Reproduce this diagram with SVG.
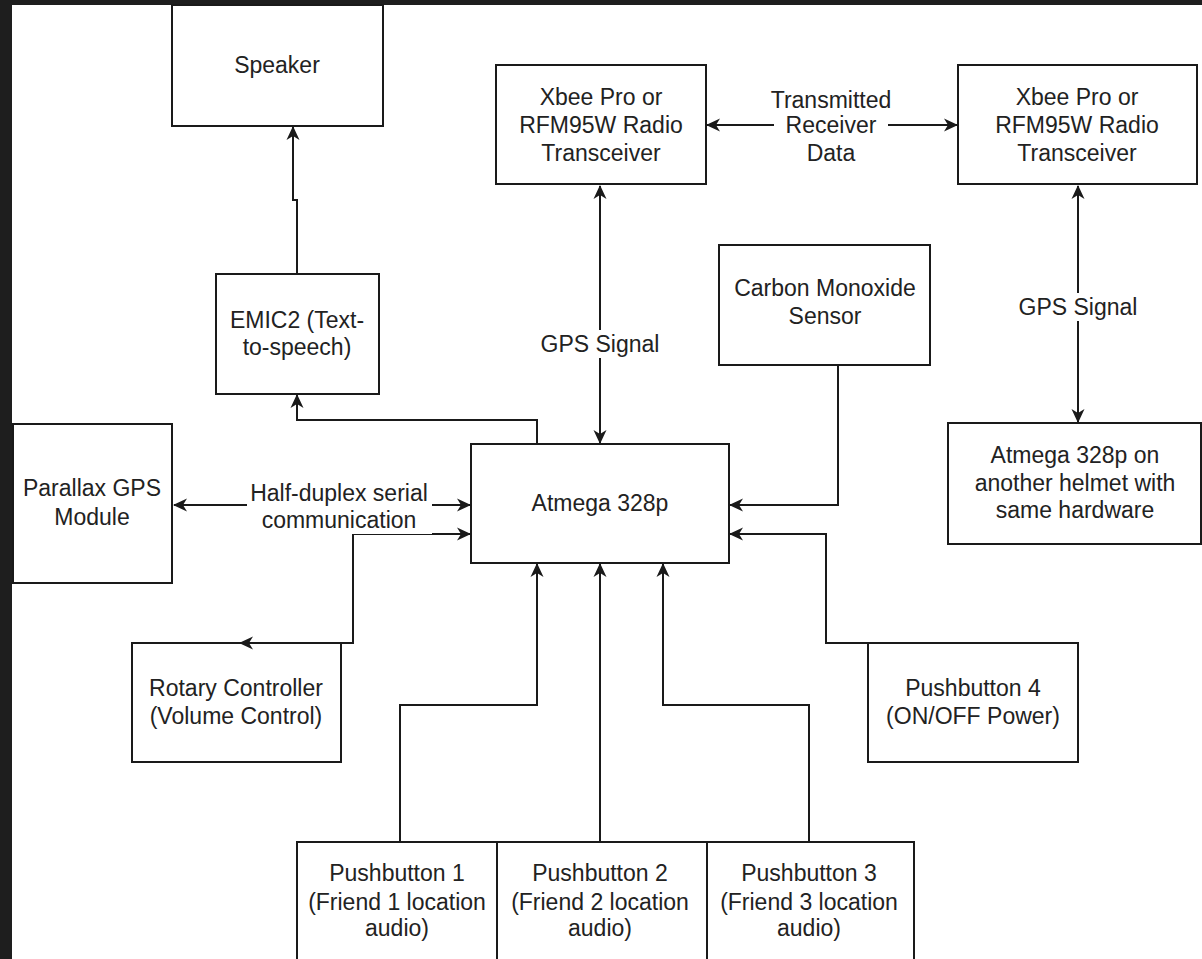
<svg xmlns="http://www.w3.org/2000/svg" width="1202" height="959" viewBox="0 0 1202 959">
<style>
.box{fill:#fff;stroke:#1a1a1a;stroke-width:2}
.t{font-family:"Liberation Sans",Arial,sans-serif;font-size:23px;fill:#222;text-anchor:middle}
.c{fill:none;stroke:#1a1a1a;stroke-width:2}
.lb{fill:#fff}
</style>
<defs>
<marker id="ar" viewBox="0 0 14 14" markerWidth="14" markerHeight="14" refX="13" refY="7" orient="auto-start-reverse" markerUnits="userSpaceOnUse">
<path d="M0,0.5 L14,7 L0,13.5 L4,7 Z" fill="#1a1a1a"/>
</marker>
</defs>
<rect x="0" y="0" width="1202" height="959" fill="#1e1e1e"/>
<rect x="12" y="5" width="1190" height="954" fill="#fff"/>

<g id="speaker"><rect class="box" x="172" y="5" width="211" height="121"/><text class="t" x="277" y="73">Speaker</text></g>
<g id="xbee1"><rect class="box" x="496" y="65" width="210" height="119"/>
<text class="t" x="601" y="105">Xbee Pro or</text><text class="t" x="601" y="133">RFM95W Radio</text><text class="t" x="601" y="161">Transceiver</text></g>
<g id="xbee2"><rect class="box" x="958" y="65" width="239" height="119"/>
<text class="t" x="1077" y="105">Xbee Pro or</text><text class="t" x="1077" y="133">RFM95W Radio</text><text class="t" x="1077" y="161">Transceiver</text></g>
<g id="emic2"><rect class="box" x="216" y="274" width="163" height="120"/>
<text class="t" x="297" y="328">EMIC2 (Text-</text><text class="t" x="297" y="355">to-speech)</text></g>
<g id="co"><rect class="box" x="719" y="245" width="211" height="120"/>
<text class="t" x="825" y="296">Carbon Monoxide</text><text class="t" x="825" y="324">Sensor</text></g>
<g id="parallax"><rect class="box" x="13" y="424" width="159" height="159"/>
<text class="t" x="92" y="496">Parallax GPS</text><text class="t" x="92" y="525">Module</text></g>
<g id="atmega"><rect class="box" x="471" y="444" width="258" height="119"/>
<text class="t" x="600" y="511">Atmega 328p</text></g>
<g id="helmet"><rect class="box" x="948" y="423" width="253" height="121"/>
<text class="t" x="1075" y="463">Atmega 328p on</text><text class="t" x="1075" y="491">another helmet with</text><text class="t" x="1075" y="518">same hardware</text></g>
<g id="rotary"><rect class="box" x="132" y="643" width="209" height="119"/>
<text class="t" x="236" y="696">Rotary Controller</text><text class="t" x="236" y="724">(Volume Control)</text></g>
<g id="pb4"><rect class="box" x="868" y="643" width="210" height="119"/>
<text class="t" x="973" y="696">Pushbutton 4</text><text class="t" x="973" y="724">(ON/OFF Power)</text></g>
<g id="pb1"><rect class="box" x="297" y="842" width="200" height="130"/>
<text class="t" x="397" y="881">Pushbutton 1</text><text class="t" x="397" y="910">(Friend 1 location</text><text class="t" x="397" y="936">audio)</text></g>
<g id="pb2"><rect class="box" x="497" y="842" width="210" height="130"/>
<text class="t" x="600" y="881">Pushbutton 2</text><text class="t" x="600" y="910">(Friend 2 location</text><text class="t" x="600" y="936">audio)</text></g>
<g id="pb3"><rect class="box" x="707" y="842" width="207" height="130"/>
<text class="t" x="809" y="881">Pushbutton 3</text><text class="t" x="809" y="910">(Friend 3 location</text><text class="t" x="809" y="936">audio)</text></g>

<g id="connectors">
<path class="c" d="M297,274 L297,200 L293,200 L293,127" marker-end="url(#ar)"/>
<path class="c" d="M537,444 L537,420 L297,420 L297,395" marker-end="url(#ar)"/>
<path class="c" d="M600,186 L600,443" marker-start="url(#ar)" marker-end="url(#ar)"/>
<path class="c" d="M707,125 L957,125" marker-start="url(#ar)" marker-end="url(#ar)"/>
<path class="c" d="M1078,186 L1078,422" marker-start="url(#ar)" marker-end="url(#ar)"/>
<path class="c" d="M838,365 L838,505 L730,505" marker-end="url(#ar)"/>
<path class="c" d="M174,505 L470,505" marker-start="url(#ar)" marker-end="url(#ar)"/>
<path class="c" d="M240,643 L353,643 L353,534 L470,534" marker-start="url(#ar)" marker-end="url(#ar)"/>
<path class="c" d="M400,842 L400,705 L537,705 L537,564" marker-end="url(#ar)"/>
<path class="c" d="M600,842 L600,564" marker-end="url(#ar)"/>
<path class="c" d="M809,842 L809,705 L663,705 L663,564" marker-end="url(#ar)"/>
<path class="c" d="M868,643 L826,643 L826,534 L730,534" marker-end="url(#ar)"/>
<rect class="lb" x="545" y="330" width="110" height="28"/>
<text class="t" x="600" y="352">GPS Signal</text>
<rect class="lb" x="1023" y="293" width="110" height="28"/>
<text class="t" x="1078" y="315">GPS Signal</text>
<rect class="lb" x="774" y="84" width="114" height="84"/>
<text class="t" x="831" y="108">Transmitted</text>
<text class="t" x="831" y="133">Receiver</text>
<text class="t" x="831" y="161">Data</text>
<rect class="lb" x="247" y="478" width="185" height="56"/>
<text class="t" x="339" y="501">Half-duplex serial</text>
<text class="t" x="339" y="528">communication</text>
</g>
</svg>
